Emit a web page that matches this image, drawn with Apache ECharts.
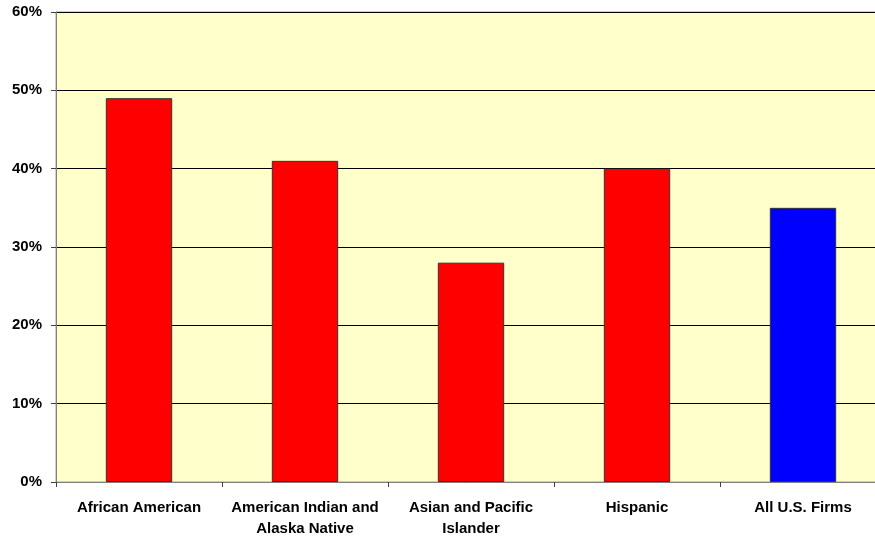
<!DOCTYPE html>
<html>
<head>
<meta charset="utf-8">
<script src="https://cdn.jsdelivr.net/npm/echarts@6/dist/echarts.min.js"></script>
<style>
  html, body { margin: 0; padding: 0; background: #ffffff; }
  #chart { width: 875px; height: 537px; }
</style>
</head>
<body>
<div id="chart"></div>
<script>
// Share of firms by owner group (percent)
const categories = [
  'African American',
  'American Indian and\nAlaska Native',
  'Asian and Pacific\nIslander',
  'Hispanic',
  'All U.S. Firms'
];
const values = [49, 41, 28, 40, 35];
const barColors = ['#ff0000', '#ff0000', '#ff0000', '#ff0000', '#0000ff'];
const yTicks = { min: 0, max: 60, interval: 10 };

const chart = echarts.init(document.getElementById('chart'));
const labelFont = {
  fontFamily: 'Arial, "Liberation Sans", sans-serif',
  fontWeight: 'bold',
  fontSize: 15,
  color: '#000000'
};

chart.setOption({
  animation: false,
  grid: {
    left: 56,
    right: -11,
    top: 12,
    bottom: 55,
    containLabel: false,
    outerBoundsMode: 'none',
    show: true,
    backgroundColor: '#ffffcc',
    borderColor: '#a0a0a0',
    borderWidth: 1
  },
  xAxis: {
    type: 'category',
    data: categories,
    axisLine: { lineStyle: { color: '#808080', width: 1 } },
    axisTick: { show: true, length: 5, lineStyle: { color: '#404040' } },
    axisLabel: Object.assign({ margin: 15, lineHeight: 21, interval: 0 }, labelFont),
    splitLine: { show: false }
  },
  yAxis: {
    type: 'value',
    min: yTicks.min,
    max: yTicks.max,
    interval: yTicks.interval,
    axisLine: { show: true, lineStyle: { color: '#808080', width: 1 } },
    axisTick: { show: true, length: 5, lineStyle: { color: '#404040' } },
    axisLabel: Object.assign({ margin: 14, formatter: '{value}%' }, labelFont),
    splitLine: { show: true, lineStyle: { color: '#000000', width: 1 } }
  },
  series: [{
    type: 'bar',
    data: values.map((v, i) => ({
      value: v,
      itemStyle: { color: barColors[i] }
    })),
    barCategoryGap: '60%',
    itemStyle: { borderColor: '#333333', borderWidth: 1 }
  }]
});
</script>
</body>
</html>
